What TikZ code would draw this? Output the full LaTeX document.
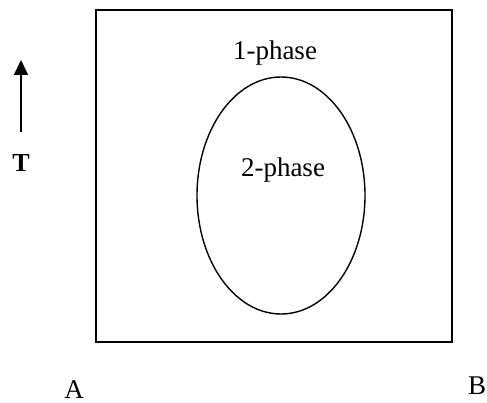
\documentclass[tikz,border=0pt]{standalone}
\usepackage{fontspec}
\setmainfont{Liberation Serif}
\usetikzlibrary{shapes.geometric,arrows.meta}
\tikzset{
  lbl/.style={font=\fontsize{27}{30}\selectfont, inner sep=0pt, anchor=base},
  frame/.style={draw, line width=1.8pt, minimum width=356pt, minimum height=332pt, inner sep=0pt},
  region/.style={draw, ellipse, line width=1.4pt, minimum width=168pt, minimum height=237pt, inner sep=0pt},
  tarrow/.style={line width=1.8pt, -{Triangle[width=14pt,length=15pt]}}
}
\begin{document}
\begin{tikzpicture}[x=1pt,y=-1pt]
\useasboundingbox (0,0) rectangle (487,403);
\node[frame] (box) at (274,176) {};
\node[region] (ell) at (281,195.5) {};
\node[lbl] (one) at (275,60) {1-phase};
\node[lbl] (two) at (283,177) {2-phase};
\node[lbl,font=\fontsize{26}{29}\selectfont\bfseries] (T) at (21,172) {T};
\node[lbl] (A) at (74,398) {A};
\node[lbl] (B) at (477,394) {B};
\coordinate (tbot) at (21,132);
\coordinate (ttop) at (21,60);
\draw[tarrow] (tbot) -- (ttop);
\end{tikzpicture}
\end{document}
